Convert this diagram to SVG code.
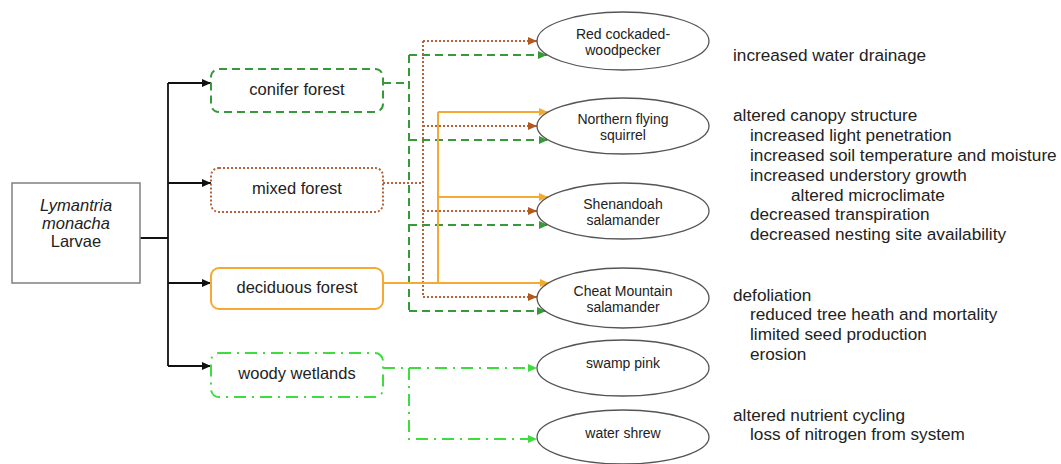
<svg xmlns="http://www.w3.org/2000/svg" width="1061" height="464" viewBox="0 0 1061 464">
  <style>
    text { font-family: "Liberation Sans", Arial, Helvetica, sans-serif; fill: #222; }
    .lbl { font-size: 16.5px; text-anchor: middle; }
    .sp { font-size: 14px; text-anchor: middle; }
    .note { font-size: 17.2px; }
    .sp-shape { fill: #fff; stroke: #555; stroke-width: 1.3; }
    .blk { fill: none; stroke: #111; stroke-width: 1.8; }
    .con { fill: none; stroke: #36993a; stroke-width: 2; stroke-dasharray: 8 5; }
    .mix { fill: none; stroke: #b4643a; stroke-width: 2; stroke-dasharray: 2 2; }
    .dec { fill: none; stroke: #f4aa32; stroke-width: 2; }
    .wet { fill: none; stroke: #3fdc3f; stroke-width: 2; stroke-dasharray: 12 6 2 6; }
  </style>
  <defs>
    <marker id="ah-blk" markerUnits="userSpaceOnUse" markerWidth="9" markerHeight="8" refX="9" refY="4" orient="auto"><path d="M0,0 L9,4 L0,8 z" fill="#111"/></marker>
    <marker id="ah-con" markerUnits="userSpaceOnUse" markerWidth="9" markerHeight="8" refX="9" refY="4" orient="auto"><path d="M0,0 L9,4 L0,8 z" fill="#36993a"/></marker>
    <marker id="ah-mix" markerUnits="userSpaceOnUse" markerWidth="9" markerHeight="8" refX="9" refY="4" orient="auto"><path d="M0,0 L9,4 L0,8 z" fill="#b4581e"/></marker>
    <marker id="ah-dec" markerUnits="userSpaceOnUse" markerWidth="9" markerHeight="8" refX="9" refY="4" orient="auto"><path d="M0,0 L9,4 L0,8 z" fill="#f4aa32"/></marker>
    <marker id="ah-wet" markerUnits="userSpaceOnUse" markerWidth="9" markerHeight="8" refX="9" refY="4" orient="auto"><path d="M0,0 L9,4 L0,8 z" fill="#3fdc3f"/></marker>
  </defs>

  <!-- connectors -->
  <g id="connectors">
    <!-- larvae to habitat types -->
    <path class="blk" d="M140,238 H168 M168,83 V366"/>
    <path class="blk" d="M168,83 H211" marker-end="url(#ah-blk)"/>
    <path class="blk" d="M168,183 H211" marker-end="url(#ah-blk)"/>
    <path class="blk" d="M168,283 H211" marker-end="url(#ah-blk)"/>
    <path class="blk" d="M168,366 H211" marker-end="url(#ah-blk)"/>

    <!-- conifer forest -->
    <path class="con" d="M383,83 H409 M409,55 V311"/>
    <path class="con" d="M409,55 H547" marker-end="url(#ah-con)"/>
    <path class="con" d="M409,140 H548" marker-end="url(#ah-con)"/>
    <path class="con" d="M409,225 H548" marker-end="url(#ah-con)"/>
    <path class="con" d="M409,311 H546" marker-end="url(#ah-con)"/>

    <!-- mixed forest -->
    <path class="mix" d="M383,183 H423 M423,41 V297"/>
    <path class="mix" d="M423,41 H537" marker-end="url(#ah-mix)"/>
    <path class="mix" d="M423,126 H537" marker-end="url(#ah-mix)"/>
    <path class="mix" d="M423,211 H537" marker-end="url(#ah-mix)"/>
    <path class="mix" d="M423,297 H537" marker-end="url(#ah-mix)"/>

    <!-- deciduous forest -->
    <path class="dec" d="M438,112 V283"/>
    <path class="dec" d="M438,112 H548" marker-end="url(#ah-dec)"/>
    <path class="dec" d="M438,197 H548" marker-end="url(#ah-dec)"/>
    <path class="dec" d="M383,283 H549" marker-end="url(#ah-dec)"/>

    <!-- woody wetlands -->
    <path class="wet" d="M383,368 H537" marker-end="url(#ah-wet)"/>
    <path class="wet" d="M409,368 V439 H537" marker-end="url(#ah-wet)"/>
  </g>

  <!-- source -->
  <g id="larvae">
    <rect x="12" y="183" width="128" height="100" fill="#fff" stroke="#888" stroke-width="1.6"/>
    <text class="lbl" x="76" y="211" font-style="italic">Lymantria</text>
    <text class="lbl" x="76" y="229" font-style="italic">monacha</text>
    <text class="lbl" x="76" y="247">Larvae</text>
  </g>

  <!-- habitat types -->
  <g id="conifer-forest">
    <rect x="211" y="69" width="172" height="43" rx="8" fill="#fff" stroke="#36993a" stroke-width="2" stroke-dasharray="8 5"/>
    <text class="lbl" x="297" y="95">conifer forest</text>
  </g>
  <g id="mixed-forest">
    <rect x="211" y="168" width="172" height="44" rx="8" fill="#fff" stroke="#b4643a" stroke-width="2" stroke-dasharray="2 2"/>
    <text class="lbl" x="297" y="194">mixed forest</text>
  </g>
  <g id="deciduous-forest">
    <rect x="211" y="268" width="172" height="41" rx="8" fill="#fff" stroke="#f4aa32" stroke-width="2"/>
    <text class="lbl" x="297" y="293">deciduous forest</text>
  </g>
  <g id="woody-wetlands">
    <rect x="211" y="353" width="172" height="44" rx="8" fill="#fff" stroke="#3fdc3f" stroke-width="2" stroke-dasharray="12 6 2 6"/>
    <text class="lbl" x="297" y="379">woody wetlands</text>
  </g>

  <!-- species -->
  <g id="red-cockaded-woodpecker">
    <ellipse class="sp-shape" cx="623" cy="41" rx="86" ry="29"/>
    <text class="sp" x="623" y="39">Red cockaded-</text>
    <text class="sp" x="623" y="55">woodpecker</text>
  </g>
  <g id="northern-flying-squirrel">
    <ellipse class="sp-shape" cx="623" cy="126" rx="86" ry="28"/>
    <text class="sp" x="623" y="124">Northern flying</text>
    <text class="sp" x="623" y="140">squirrel</text>
  </g>
  <g id="shenandoah-salamander">
    <ellipse class="sp-shape" cx="623" cy="211" rx="86" ry="28"/>
    <text class="sp" x="623" y="209">Shenandoah</text>
    <text class="sp" x="623" y="225">salamander</text>
  </g>
  <g id="cheat-mountain-salamander">
    <ellipse class="sp-shape" cx="623" cy="298" rx="86" ry="30"/>
    <text class="sp" x="623" y="296">Cheat Mountain</text>
    <text class="sp" x="623" y="312">salamander</text>
  </g>
  <g id="swamp-pink">
    <ellipse class="sp-shape" cx="623" cy="368" rx="86" ry="28"/>
    <text class="sp" x="623" y="368">swamp pink</text>
  </g>
  <g id="water-shrew">
    <ellipse class="sp-shape" cx="623" cy="437" rx="86" ry="27"/>
    <text class="sp" x="623" y="438">water shrew</text>
  </g>

  <!-- effects -->
  <g id="effects">
    <text class="note" x="733" y="61">increased water drainage</text>
    <text class="note" x="733" y="121">altered canopy structure</text>
    <text class="note" x="750" y="141">increased light penetration</text>
    <text class="note" x="750" y="161">increased soil temperature and moisture</text>
    <text class="note" x="750" y="181">increased understory growth</text>
    <text class="note" x="791" y="201">altered microclimate</text>
    <text class="note" x="750" y="220">decreased transpiration</text>
    <text class="note" x="750" y="240">decreased nesting site availability</text>
    <text class="note" x="733" y="301">defoliation</text>
    <text class="note" x="750" y="320">reduced tree heath and mortality</text>
    <text class="note" x="750" y="340">limited seed production</text>
    <text class="note" x="750" y="360">erosion</text>
    <text class="note" x="733" y="421">altered nutrient cycling</text>
    <text class="note" x="750" y="440">loss of nitrogen from system</text>
  </g>
</svg>
